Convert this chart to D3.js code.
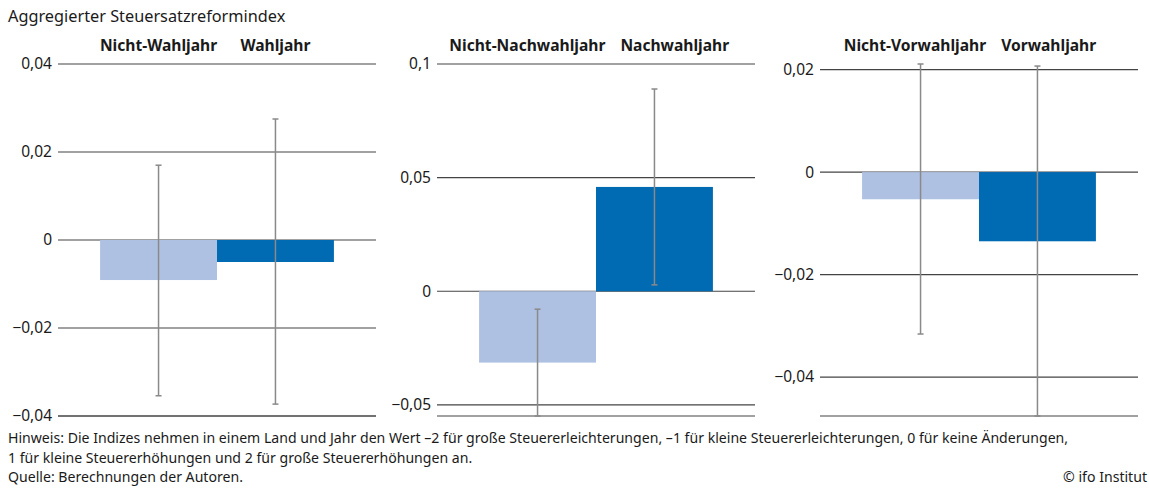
<!DOCTYPE html>
<html>
<head>
<meta charset="utf-8">
<script src="https://cdn.jsdelivr.net/npm/d3@7"></script>
<style>
  body { margin: 0; background: #fff; }
  svg { display: block; font-family: "Noto Sans", "Open Sans", sans-serif; }
</style>
</head>
<body>
<svg id="chart" width="1149" height="489"></svg>
<script>
"use strict";

// data
const groups = [
  ["Nicht-Wahljahr", "Wahljahr"],
  ["Nicht-Nachwahljahr", "Nachwahljahr"],
  ["Nicht-Vorwahljahr", "Vorwahljahr"]
];
const means = [
  [-0.0091, -0.0050],
  [-0.0314, 0.0459],
  [-0.0053, -0.0135]
];
const lower = [
  [-0.0354, -0.0373],
  [-0.0549, 0.0028],
  [-0.0316, -0.0476]
];
const upper = [
  [0.0170, 0.0275],
  [-0.0079, 0.0890],
  [0.0211, 0.0207]
];
const ticks = [
  [-0.04, -0.02, 0, 0.02, 0.04],
  [-0.05, 0, 0.05, 0.1],
  [-0.04, -0.02, 0, 0.02]
];
const title = "Aggregierter Steuersatzreformindex";
const notes = [
  "Hinweis: Die Indizes nehmen in einem Land und Jahr den Wert \u20132 für große Steuererleichterungen, \u20131 für kleine Steuererleichterungen, 0 für keine Änderungen,",
  "1  für kleine Steuererhöhungen und 2 für große Steuererhöhungen an.",
  "Quelle: Berechnungen der Autoren."
];
const credit = "© ifo Institut";

const colors = ["#aec1e3", "#006ab3"];
const panel_x = [58, 437, 820];
const panel_w = 318;
const plot_top = 64;
const plot_bottom = 416;

const svg = d3.select("#chart");

svg.append("text")
    .attr("x", 8)
    .attr("y", 22)
    .style("font-size", "16.3px")
    .style("fill", "#1a1a1a")
    .text(title);

const fmt = function(v){
  if (v === 0) return "0";
  return d3.format(",")(v).replace(".", ",").replace("-", "\u2212");
};

groups.forEach(function(names, p){
  const x0 = panel_x[p];
  const ymin = Math.min(d3.min(ticks[p]), d3.min(lower[p]));
  const ymax = Math.max(d3.max(ticks[p]), d3.max(upper[p]));

  const y = d3.scaleLinear()
      .domain([ymin, ymax])
      .range([plot_bottom, plot_top]);

  const x = d3.scaleBand()
      .domain(names)
      .range([x0, x0 + panel_w])
      .paddingInner(0)
      .paddingOuter(0.36);

  const g = svg.append("g");

  // gridlines + tick labels
  g.selectAll(".grid")
      .data(ticks[p])
      .enter().append("line")
      .attr("x1", x0)
      .attr("x2", x0 + panel_w)
      .attr("y1", d => y(d))
      .attr("y2", d => y(d))
      .style("stroke", "#444")
      .style("stroke-width", 1.2);

  g.selectAll(".tick")
      .data(ticks[p])
      .enter().append("text")
      .attr("x", x0 - 6)
      .attr("y", d => y(d))
      .attr("dy", "0.35em")
      .style("text-anchor", "end")
      .style("font-size", "15.5px")
      .style("fill", "#1a1a1a")
      .text(d => fmt(d));

  // bottom edge of plot area
  g.append("line")
      .attr("x1", x0)
      .attr("x2", x0 + panel_w)
      .attr("y1", y(ymin))
      .attr("y2", y(ymin))
      .style("stroke", "#444")
      .style("stroke-width", 1.2);

  // bars
  g.selectAll(".bar")
      .data(names)
      .enter().append("rect")
      .attr("x", d => x(d))
      .attr("width", x.bandwidth())
      .attr("y", (d, i) => y(Math.max(0, means[p][i])))
      .attr("height", (d, i) => Math.abs(y(means[p][i]) - y(0)))
      .style("fill", (d, i) => colors[i]);

  // error bars
  const cap = 3;
  names.forEach(function(n, i){
    const cx = x(n) + x.bandwidth() / 2;
    g.append("line")
        .attr("x1", cx).attr("x2", cx)
        .attr("y1", y(upper[p][i])).attr("y2", y(lower[p][i]))
        .style("stroke", "#8a8a8a").style("stroke-width", 1.5);
    [upper[p][i], lower[p][i]].forEach(function(v){
      g.append("line")
          .attr("x1", cx - cap).attr("x2", cx + cap)
          .attr("y1", y(v)).attr("y2", y(v))
          .style("stroke", "#8a8a8a").style("stroke-width", 1.5);
    });
  });

  // headers, centred over bars, pushed apart if they collide
  const heads = g.selectAll(".head")
      .data(names)
      .enter().append("text")
      .attr("y", 51)
      .style("font-size", "15.6px")
      .style("font-weight", "bold")
      .style("fill", "#1a1a1a")
      .style("text-anchor", "middle")
      .attr("x", d => x(d) + x.bandwidth() / 2)
      .text(d => d);

  const nodes = heads.nodes();
  const w0 = nodes[0].getComputedTextLength();
  const w1 = nodes[1].getComputedTextLength();
  const c0 = x(names[0]) + x.bandwidth() / 2;
  const c1 = x(names[1]) + x.bandwidth() / 2;
  const gap = 15;
  const overlap = (c0 + w0 / 2 + gap) - (c1 - w1 / 2);
  if (overlap > 0) {
    d3.select(nodes[0]).attr("x", c0 - overlap / 3);
    d3.select(nodes[1]).attr("x", c1 + overlap * 2 / 3);
  }
});

// footer
svg.selectAll(".note")
    .data(notes)
    .enter().append("text")
    .attr("x", 8)
    .attr("y", (d, i) => 443 + i * 19.5)
    .style("font-size", "14.1px")
    .style("fill", "#1a1a1a")
    .text(d => d);

svg.append("text")
    .attr("x", 1147)
    .attr("y", 482)
    .style("text-anchor", "end")
    .style("font-size", "14.1px")
    .style("fill", "#1a1a1a")
    .text(credit);
</script>
</body>
</html>
